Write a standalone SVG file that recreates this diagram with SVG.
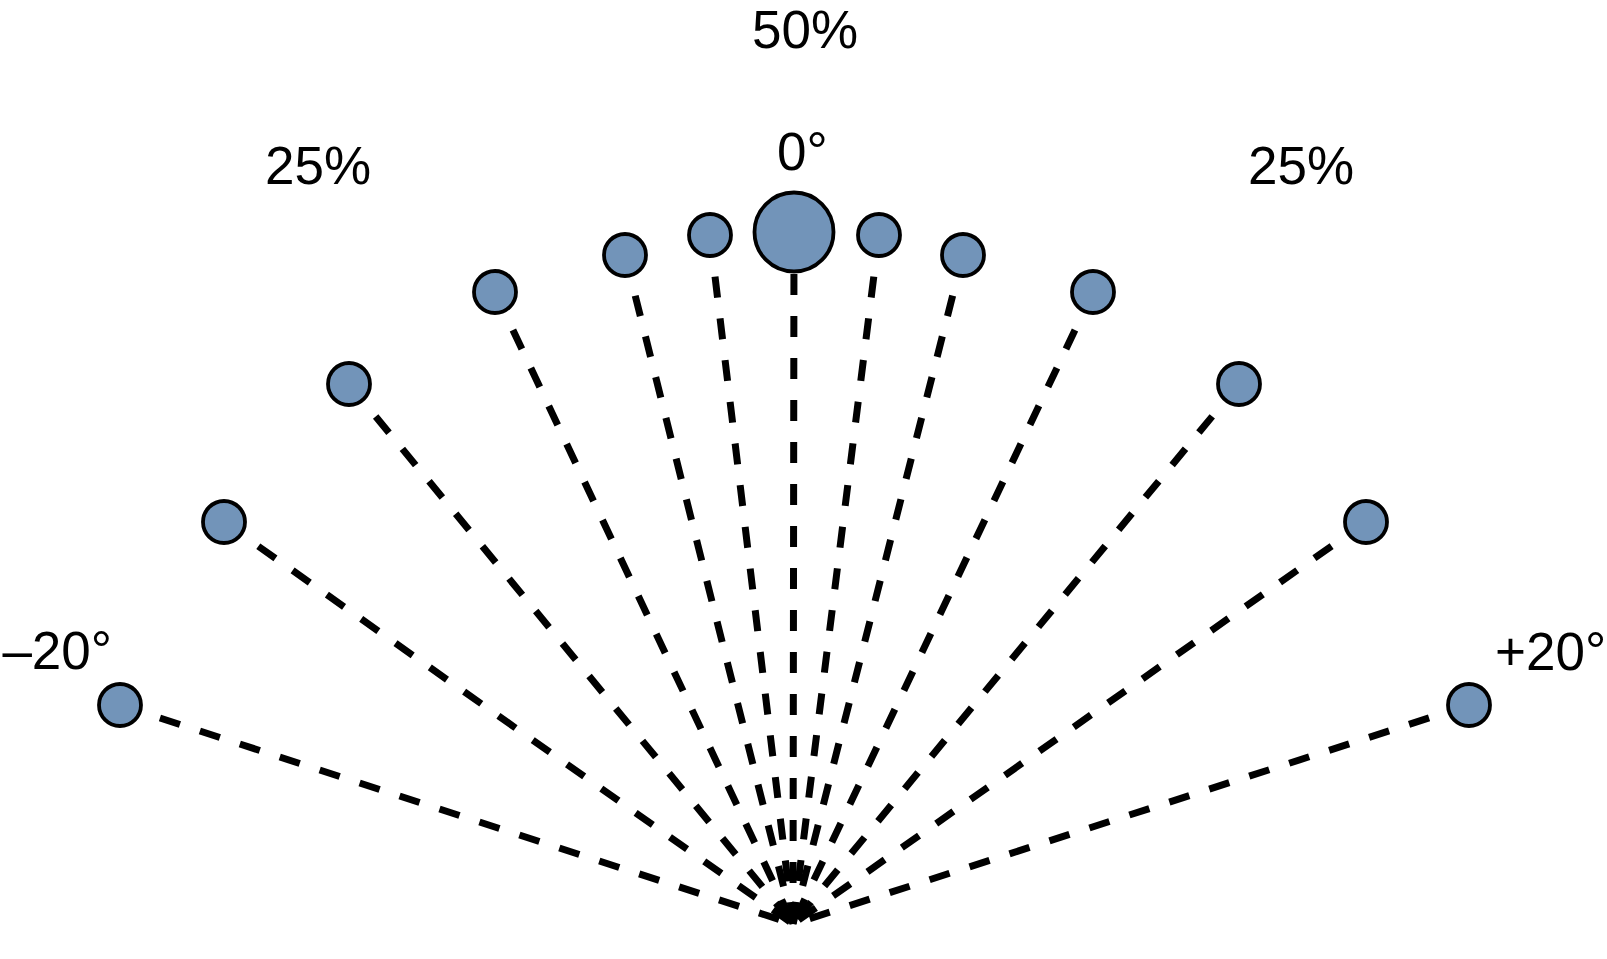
<svg xmlns="http://www.w3.org/2000/svg" width="1607" height="959" viewBox="0 0 1607 959">
<style>
.lbl{font-family:"Liberation Sans",Arial,sans-serif;font-size:53px;fill:#000}
.ray{stroke:#000;stroke-width:7;stroke-dasharray:21 21;fill:none}
.dot{fill:#7294b9;stroke:#000;stroke-width:3.8}
</style>
<rect width="1607" height="959" fill="#fff"/>
<g id="connectors">
<line class="ray" x1="120" y1="705" x2="793" y2="924"/>
<line class="ray" x1="224" y1="522" x2="793" y2="924"/>
<line class="ray" x1="349" y1="384" x2="793" y2="924"/>
<line class="ray" x1="495" y1="292" x2="793" y2="924"/>
<line class="ray" x1="625" y1="255" x2="793" y2="924"/>
<line class="ray" x1="710" y1="235" x2="793" y2="924"/>
<line class="ray" x1="794" y1="232" x2="793" y2="924"/>
<line class="ray" x1="879" y1="235" x2="793" y2="924"/>
<line class="ray" x1="963" y1="255" x2="793" y2="924"/>
<line class="ray" x1="1093" y1="292" x2="793" y2="924"/>
<line class="ray" x1="1239" y1="384" x2="793" y2="924"/>
<line class="ray" x1="1366" y1="522" x2="793" y2="924"/>
<line class="ray" x1="1469" y1="705" x2="793" y2="924"/>
</g>
<g id="n1"><circle class="dot" cx="120" cy="705" r="21"/></g>
<g id="n2"><circle class="dot" cx="224" cy="522" r="21"/></g>
<g id="n3"><circle class="dot" cx="349" cy="384" r="21"/></g>
<g id="n4"><circle class="dot" cx="495" cy="292" r="21"/></g>
<g id="n5"><circle class="dot" cx="625" cy="255" r="21"/></g>
<g id="n6"><circle class="dot" cx="710" cy="235" r="21"/></g>
<g id="n7"><circle class="dot" cx="794" cy="232" r="39.5"/></g>
<g id="n8"><circle class="dot" cx="879" cy="235" r="21"/></g>
<g id="n9"><circle class="dot" cx="963" cy="255" r="21"/></g>
<g id="n10"><circle class="dot" cx="1093" cy="292" r="21"/></g>
<g id="n11"><circle class="dot" cx="1239" cy="384" r="21"/></g>
<g id="n12"><circle class="dot" cx="1366" cy="522" r="21"/></g>
<g id="n13"><circle class="dot" cx="1469" cy="705" r="21"/></g>
<g id="labels">
<text class="lbl" x="752" y="48">50%</text>
<text class="lbl" x="777" y="170">0°</text>
<text class="lbl" x="265" y="184">25%</text>
<text class="lbl" x="1248" y="184">25%</text>
<text class="lbl" x="112" y="669" text-anchor="end">–20°</text>
<text class="lbl" x="1495" y="670">+20°</text>
</g>
</svg>
